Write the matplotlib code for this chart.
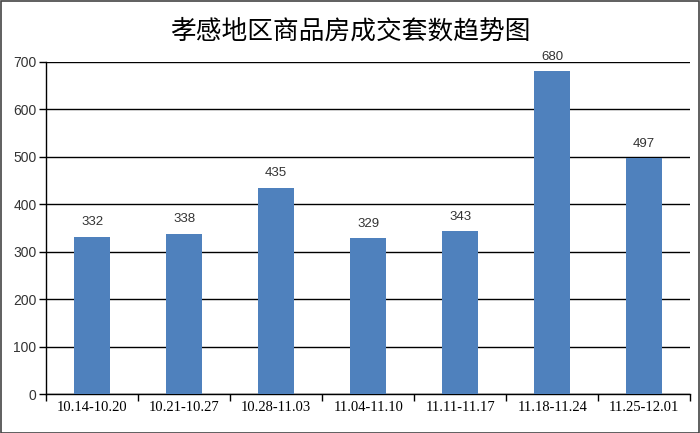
import matplotlib.pyplot as plt
from matplotlib.patches import Rectangle
import numpy as np

title = "孝感地区商品房成交套数趋势图"
weeks = ["10.14-10.20", "10.21-10.27", "10.28-11.03", "11.04-11.10",
         "11.11-11.17", "11.18-11.24", "11.25-12.01"]
sales = [332, 338, 435, 329, 343, 680, 497]

fig = plt.figure(figsize=(7, 4.33), dpi=100)
ax = fig.add_axes([0.066, 0.09, 0.92, 0.767])

x = np.arange(len(weeks))
bars = ax.bar(x, sales, width=0.39, color="#4F81BD", zorder=3)
for xi, v in zip(x, sales):
    ax.annotate(str(v), (xi, v), xytext=(0, 6), textcoords="offset points",
                ha="center", va="bottom", fontsize=9.5,
                family="Liberation Sans", color="#333333")

ax.set_xlim(-0.5, len(weeks) - 0.5)
ax.set_ylim(0, 700)
ax.set_yticks(range(0, 701, 100))
ax.yaxis.grid(True, color="black", lw=1, zorder=1)
ax.tick_params(axis="y", length=5, width=1, labelsize=10, pad=2, labelcolor="#333333")
for lab in ax.get_yticklabels():
    lab.set_family("Liberation Sans")

# category labels centred, ticks on the boundaries
ax.set_xticks(np.arange(-0.5, len(weeks), 1.0))
ax.set_xticklabels([])
ax.tick_params(axis="x", length=5, width=1, direction="out")
for xi, w in zip(x, weeks):
    ax.text(xi, -14, w, ha="center", va="top", fontsize=10.5,
            family="Liberation Serif", transform=ax.transData)

for s in ["top", "right"]:
    ax.spines[s].set_visible(False)
ax.spines["left"].set_linewidth(1)
ax.spines["bottom"].set_linewidth(1)

fig.text(0.5, 0.926, title, ha="center", va="center", fontsize=18.5,
         family=["Noto Sans CJK SC", "DejaVu Sans"])

fig.patches.append(Rectangle((0.001, 0.001), 0.997, 0.997, transform=fig.transFigure,
                             fill=False, edgecolor="#444444", lw=1.2))

fig.savefig("out.png", dpi=100)
